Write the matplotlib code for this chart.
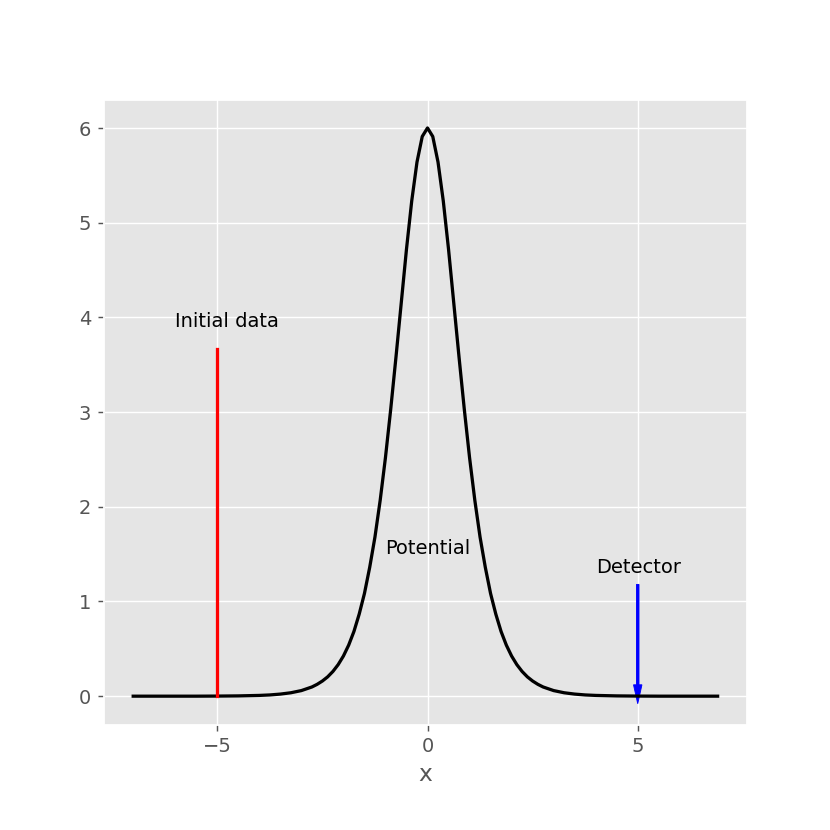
import matplotlib
matplotlib.use("Agg")
import matplotlib.pyplot as plt

plt.style.use("ggplot")
plt.rcParams["font.size"] = 10.8

# potential curve
x = [-7, -6.5, -6, -5.5, -5, -4.5, -4, -3.75, -3.5, -3.25, -3, -2.75, -2.625,
     -2.5, -2.375, -2.25, -2.125, -2,
     -1.875, -1.75, -1.625, -1.5, -1.375, -1.25, -1.125, -1, -0.875, -0.75,
     -0.625, -0.5, -0.375, -0.25, -0.125, 0,
     0.125, 0.25, 0.375, 0.5, 0.625, 0.75, 0.875, 1, 1.125, 1.25, 1.375,
     1.5, 1.625, 1.75, 1.875, 2, 2.125, 2.25, 2.375, 2.5, 2.625, 2.75, 3,
     3.25, 3.5, 3.75, 4, 4.5, 5, 5.5, 6, 6.5, 6.9]
V = [0, 0, 0, 0, 0.001, 0.003, 0.008, 0.013, 0.022, 0.036, 0.059, 0.097, 0.125,
     0.160, 0.204, 0.261, 0.333, 0.424,
     0.539, 0.683, 0.866, 1.084, 1.36, 1.68, 2.07, 2.52, 3.03, 3.58,
     4.15, 4.72, 5.23, 5.64, 5.91, 6.0,
     5.91, 5.64, 5.23, 4.72, 4.15, 3.58, 3.03, 2.52, 2.07, 1.68, 1.36,
     1.084, 0.866, 0.683, 0.539, 0.424, 0.333, 0.261, 0.204, 0.160, 0.125,
     0.097, 0.059, 0.036, 0.022, 0.013, 0.008, 0.003, 0.001, 0, 0, 0, 0]

x0, h0 = -5, 3.67      # initial data spike
xd, hd = 5, 1.18       # detector arrow

fig, ax = plt.subplots(figsize=(6.385, 6.385), dpi=130)
fig.subplots_adjust(left=0.125, right=0.9, bottom=0.127, top=0.88)

ax.plot(x, V, color="black", lw=1.8)
ax.plot([x0, x0], [0, h0], color="red", lw=1.8)
ax.arrow(xd, hd, 0, -hd + 0.12, width=0.06, head_width=0.2, head_length=0.2,
         color="blue", length_includes_head=False)

ax.text(-6.0, 3.9, "Initial data")
ax.text(-1.0, 1.5, "Potential")
ax.text(4.0, 1.3, "Detector")

ax.set_xlim(-7.7, 7.6)
ax.set_ylim(-0.3, 6.3)
ax.set_xticks([-5, 0, 5])
ax.set_xlabel("x")

fig.savefig("out.png", dpi=130)
